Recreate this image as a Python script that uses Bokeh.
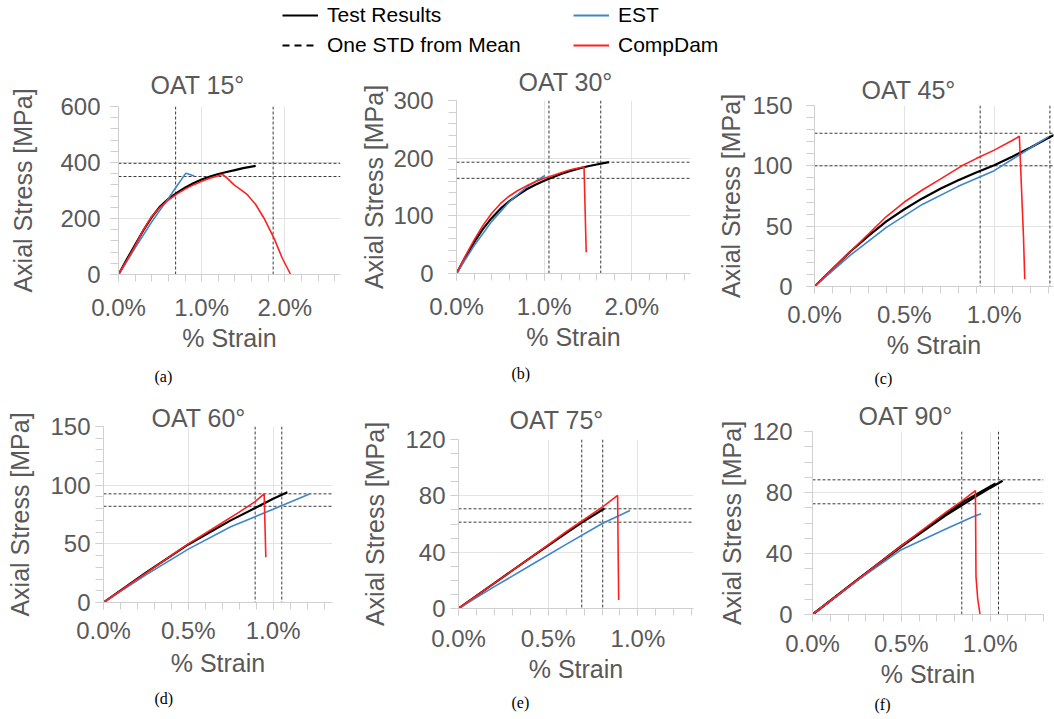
from bokeh.plotting import figure
from bokeh.layouts import column, row
from bokeh.models import (Span, Title, Legend, LegendItem, PrintfTickFormatter,
                          SingleIntervalTicker, Range1d)
from bokeh.embed import file_html
from bokeh.resources import INLINE

# ------------------------------------------------------------------ data
titles = ["OAT 15°", "OAT 30°", "OAT 45°", "OAT 60°", "OAT 75°", "OAT 90°"]
captions = ["(a)", "(b)", "(c)", "(d)", "(e)", "(f)"]

# OAT 15
test15_strain = [0, 0.1, 0.2, 0.3, 0.4, 0.5, 0.6, 0.7, 0.8, 0.9, 1.0, 1.1, 1.2, 1.3, 1.4, 1.5, 1.65]
test15_stress = [0, 54, 106, 158, 205, 243, 270, 291, 310, 326, 339, 350, 359, 366, 373, 380, 388]
est15_strain = [0, 0.2, 0.4, 0.6, 0.7, 0.81, 0.85, 0.91]
est15_stress = [0, 95, 188, 272, 315, 362, 358, 352]
cd15_strain = [0, 0.1, 0.2, 0.3, 0.4, 0.5, 0.6, 0.7, 0.8, 0.9, 1.0, 1.1, 1.2, 1.25, 1.3, 1.39,
               1.47, 1.55, 1.65, 1.75, 1.87, 1.97, 2.07]
cd15_stress = [0, 50, 102, 160, 207, 240, 266, 287, 305, 320, 333, 344, 353, 358, 346, 320,
               303, 285, 250, 201, 130, 58, 0]
std15_strain = [0.687, 1.86]
std15_stress = [350, 397]

# OAT 30
test30_strain = [0, 0.1, 0.2, 0.3, 0.4, 0.5, 0.6, 0.7, 0.8, 0.9, 1.0, 1.1, 1.2, 1.3, 1.4, 1.5, 1.6, 1.74]
test30_stress = [0, 28, 54, 77, 96, 112, 125, 136, 146, 154, 161, 167, 173, 178, 182, 186, 189, 193]
est30_strain = [0, 0.2, 0.4, 0.6, 0.8, 1.01]
est30_stress = [0, 48, 90, 124, 150, 170]
cd30_strain = [0, 0.1, 0.2, 0.3, 0.4, 0.5, 0.6, 0.7, 0.8, 0.9, 1.0, 1.1, 1.2, 1.3, 1.455, 1.48]
cd30_stress = [0, 30, 58, 83, 104, 121, 134, 144, 152, 159, 165, 170, 175, 180, 185, 37]
std30_strain = [1.055, 1.646]
std30_stress = [165, 193]

# OAT 45
test45_strain = [0, 0.1, 0.2, 0.3, 0.4, 0.5, 0.6, 0.7, 0.8, 0.9, 1.0, 1.1, 1.2, 1.3, 1.4]
test45_stress = [0, 14.5, 29, 42, 54, 64, 73, 81, 88, 94.5, 100.5, 107.5, 115, 123, 131]
est45_strain = [0, 0.2, 0.4, 0.6, 0.8, 1.0, 1.15, 1.3]
est45_stress = [0, 26, 49, 68, 83, 96, 110, 124]
cd45_strain = [0, 0.2, 0.4, 0.5, 0.6, 0.7, 0.82, 0.9, 1.0, 1.1, 1.14, 1.163, 1.17]
cd45_stress = [0, 29, 58, 70, 80, 89, 100, 106, 113, 121, 124.5, 41, 6]
std45_strain = [0.922, 1.31]
std45_stress = [100, 127]

# OAT 60
test60_strain = [0, 0.25, 0.5, 0.75, 0.894, 1.0, 1.084]
test60_stress = [0, 25.5, 49.5, 70, 80.5, 88.5, 94]
est60_strain = [0, 0.25, 0.5, 0.75, 1.0, 1.218]
est60_stress = [0, 23.5, 45.5, 64.5, 79.5, 92.6]
cd60_strain = [0, 0.25, 0.5, 0.7, 0.8, 0.894, 0.947, 0.957]
cd60_stress = [0, 25, 50, 68, 77, 86, 92.6, 38.6]
std60_strain = [0.894, 1.051]
std60_stress = [82, 92.6]

# OAT 75
test75_strain = [0, 0.2, 0.4, 0.6, 0.687, 0.813]
test75_stress = [0, 18, 36, 53.5, 61, 71]
est75_strain = [0, 0.2, 0.4, 0.6, 0.804, 0.956]
est75_stress = [0, 15.5, 30.5, 45.5, 60.5, 69.6]
cd75_strain = [0, 0.2, 0.4, 0.6, 0.813, 0.887, 0.89, 0.893]
cd75_stress = [0, 18, 36, 54.5, 73, 80.3, 40, 6]
std75_strain = [0.687, 0.804]
std75_stress = [61.3, 70.8]

# OAT 90
test90_strain = [0, 0.25, 0.5, 0.75, 0.9, 1.0, 1.07]
test90_stress = [0, 22.5, 44.5, 65, 76, 83, 87.7]
test90b_strain = [0, 0.5, 0.85, 1.03]
test90b_stress = [0, 45, 74, 86]
est90_strain = [0, 0.25, 0.5, 0.75, 0.9, 0.949]
est90_stress = [0, 22, 42.5, 56, 64, 66]
cd90_strain = [0, 0.25, 0.5, 0.75, 0.836, 0.917, 0.92, 0.93, 0.943]
cd90_stress = [0, 22.5, 45, 67, 74, 81.3, 25, 10, 0]
std90_strain = [0.84, 1.047]
std90_stress = [72.6, 88.3]

# axis extents / tick steps
x_max = [2.67, 2.67, 1.33, 1.35, 1.31, 1.30]
x_step = [1.0, 1.0, 0.5, 0.5, 0.5, 0.5]
y_max = [600, 300, 150, 150, 120, 120]
y_step = [200, 100, 50, 50, 40, 40]
y_minor = [5, 5, 5, 5, 4, 4]

# ------------------------------------------------------------------ style
GRAY = "#595959"
GRID = "#e4e4e4"
TICK = "#d0d0d0"
BLUE = "#3f86c8"
RED = "#ff2020"
FONT = "Liberation Sans"
NAN = float("nan")

# layout per panel: frame offsets inside its cell, frame size, cell size, text offsets
LAY = [
    dict(ml=118, mt=45, fw=222, fh=168, cw=345, ch=337, toff=32, tst=16, coff=36, cst=22,
         ys=10, yas=20, xs=12, xas=0),
    dict(ml=111, mt=40, fw=234, fh=173, cw=350, ch=337, toff=62, tst=10, coff=55, cst=18,
         ys=15, yas=2, xs=12, xas=0),
    dict(ml=119, mt=45, fw=239, fh=181, cw=359, ch=337, toff=47, tst=4, coff=60, cst=12,
         ys=14, yas=4, xs=7, xas=0),
    dict(ml=103, mt=28, fw=229, fh=176, cw=345, ch=322, toff=48, tst=-10, coff=51, cst=16,
         ys=5, yas=13, xs=7, xas=2),
    dict(ml=113, mt=41, fw=235, fh=169, cw=350, ch=322, toff=51, tst=11, coff=53, cst=12,
         ys=5, yas=13, xs=9, xas=0),
    dict(ml=117, mt=33, fw=231, fh=183, cw=359, ch=322, toff=46, tst=3, coff=62, cst=7,
         ys=12, yas=3, xs=8, xas=0),
]


def make_panel(i, tests, est, cd, std_x, std_y):
    L = LAY[i]
    p = figure(frame_width=L["fw"], frame_height=L["fh"],
               x_range=Range1d(0, x_max[i]), y_range=Range1d(0, y_max[i]),
               toolbar_location=None, output_backend="svg",
               min_border_left=L["ml"], min_border_top=L["mt"],
               min_border_right=L["cw"] - L["ml"] - L["fw"],
               min_border_bottom=L["ch"] - L["mt"] - L["fh"],
               outline_line_color=None)
    p.frame_align = False
    p.title.text = titles[i]
    p.title.align = "left"
    p.title.offset = L["toff"]
    p.title.standoff = L["tst"]
    p.title.text_font = FONT
    p.title.text_font_size = "25px"
    p.title.text_font_style = "normal"
    p.title.text_color = GRAY

    xt = SingleIntervalTicker(interval=x_step[i], num_minor_ticks=5)
    yt = SingleIntervalTicker(interval=y_step[i], num_minor_ticks=y_minor[i])
    xa = p.xaxis[0]
    ya = p.yaxis[0]
    xa.ticker = xt
    ya.ticker = yt
    xa.formatter = PrintfTickFormatter(format="%.1f%%")
    xa.axis_label = "% Strain"
    ya.axis_label = "Axial Stress [MPa]"
    for ax in (xa, ya):
        ax.major_label_text_font = FONT
        ax.major_label_text_font_size = "24px"
        ax.major_label_text_color = GRAY
        ax.axis_label_text_font = FONT
        ax.axis_label_text_font_size = "25px"
        ax.axis_label_text_font_style = "normal"
        ax.axis_label_text_color = GRAY
        ax.axis_line_color = TICK
        ax.major_tick_line_color = TICK
        ax.minor_tick_line_color = TICK
        ax.major_tick_in = 0
        ax.minor_tick_in = 0
    xa.major_tick_out = 7
    xa.minor_tick_out = 7
    ya.major_tick_out = 8
    ya.minor_tick_out = 8
    xa.major_label_standoff = L["xs"]
    xa.axis_label_standoff = L["xas"]
    ya.major_label_standoff = L["ys"]
    ya.axis_label_standoff = L["yas"]

    p.xgrid.ticker = xt
    p.ygrid.ticker = yt
    p.xgrid.grid_line_color = GRID
    p.ygrid.grid_line_color = GRID

    for v in std_x:
        p.add_layout(Span(location=v, dimension="height", line_color="#3a3a3a",
                          line_dash="3 2", line_width=1, level="underlay"))
    for v in std_y:
        p.add_layout(Span(location=v, dimension="width", line_color="#3a3a3a",
                          line_dash="3 2", line_width=1, level="underlay"))

    for (tx, ty) in tests:
        p.line(tx, ty, line_color="black", line_width=2.2)
    p.line(est[0], est[1], line_color=BLUE, line_width=1.6)
    p.line(cd[0], cd[1], line_color=RED, line_width=1.6)

    p.add_layout(Title(text=captions[i], align="left", offset=L["coff"],
                       standoff=L["cst"], text_font="Liberation Serif",
                       text_font_size="16px", text_font_style="normal",
                       text_color="black"), "below")
    return p


pa = make_panel(0, [(test15_strain, test15_stress)], (est15_strain, est15_stress),
                (cd15_strain, cd15_stress), std15_strain, std15_stress)
pb = make_panel(1, [(test30_strain, test30_stress)], (est30_strain, est30_stress),
                (cd30_strain, cd30_stress), std30_strain, std30_stress)
pc = make_panel(2, [(test45_strain, test45_stress)], (est45_strain, est45_stress),
                (cd45_strain, cd45_stress), std45_strain, std45_stress)
pd = make_panel(3, [(test60_strain, test60_stress)], (est60_strain, est60_stress),
                (cd60_strain, cd60_stress), std60_strain, std60_stress)
pe = make_panel(4, [(test75_strain, test75_stress)], (est75_strain, est75_stress),
                (cd75_strain, cd75_stress), std75_strain, std75_stress)
pf = make_panel(5, [(test90_strain, test90_stress), (test90b_strain, test90b_stress)],
                (est90_strain, est90_stress), (cd90_strain, cd90_stress),
                std90_strain, std90_stress)

# ------------------------------------------------------------------ legend strip
leg = figure(width=1054, height=60, x_range=Range1d(0, 1), y_range=Range1d(0, 1),
             toolbar_location=None, output_backend="svg", x_axis_type=None,
             y_axis_type=None, min_border=0, outline_line_color=None)
leg.frame_align = False
r_test = leg.line(x=[NAN], y=[NAN], line_color="black", line_width=2)
r_std = leg.line(x=[NAN], y=[NAN], line_color="black", line_width=2, line_dash="7 5")
r_est = leg.line(x=[NAN], y=[NAN], line_color=BLUE, line_width=2)
r_cd = leg.line(x=[NAN], y=[NAN], line_color=RED, line_width=2)

common = dict(orientation="vertical", glyph_width=36, glyph_height=20, label_standoff=9,
              spacing=6, padding=0, margin=0, border_line_color=None,
              background_fill_alpha=0, label_text_font=FONT,
              label_text_font_size="21px", label_text_color="black")
leg.add_layout(Legend(items=[LegendItem(label="Test Results", renderers=[r_test]),
                             LegendItem(label="One STD from Mean", renderers=[r_std])],
                      location=(282, 3), **common))
leg.add_layout(Legend(items=[LegendItem(label="EST", renderers=[r_est]),
                             LegendItem(label="CompDam", renderers=[r_cd])],
                      location=(573, 3), **common))

layout = column(leg, row(pa, pb, pc), row(pd, pe, pf))

open("out.html", "w").write(file_html(layout, INLINE))
